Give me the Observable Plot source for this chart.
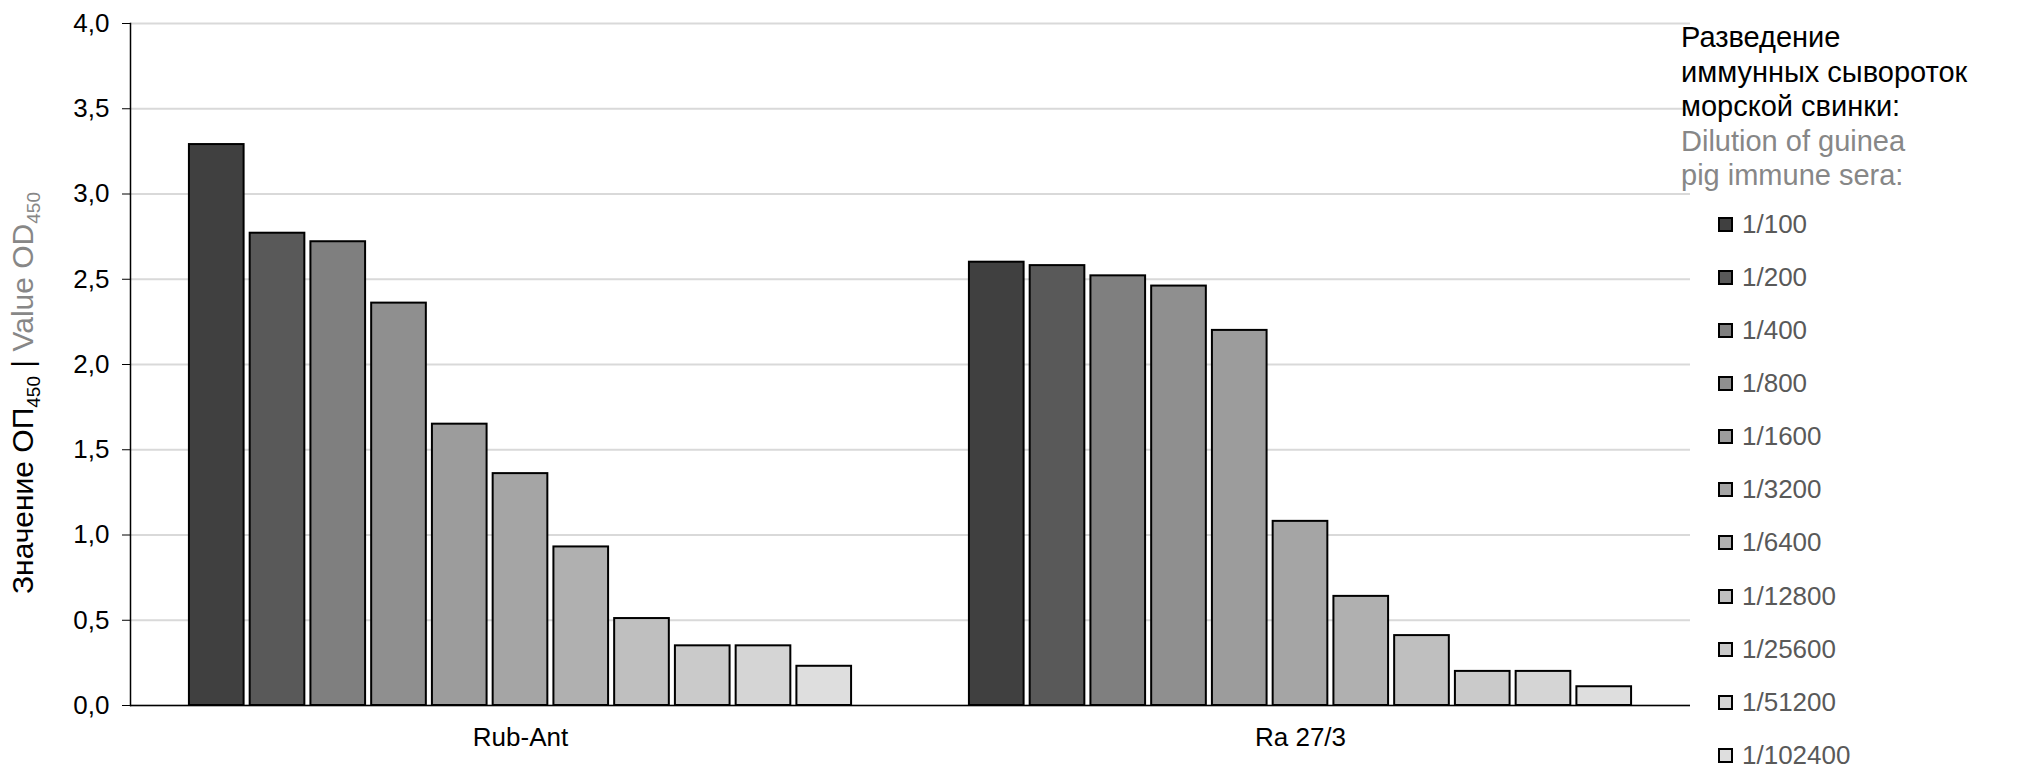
<!DOCTYPE html>
<html>
<head>
<meta charset="utf-8">
<script src="https://cdn.jsdelivr.net/npm/d3@7"></script>
<script src="https://cdn.jsdelivr.net/npm/@observablehq/plot@0.6"></script>
<style>
  html, body { margin: 0; padding: 0; background: #fff; }
  #wrap { position: relative; width: 2018px; height: 779px; font-family: "Liberation Sans", Arial, sans-serif; }
  #chart { position: absolute; left: 0; top: 0; }
  #legend { position: absolute; left: 1681px; top: 0; width: 337px; height: 779px; }
  #legend .title { position: absolute; left: 0; top: 20px; font-size: 29px; line-height: 34.5px; white-space: nowrap; }
  #legend .ru { color: #000; }
  #legend .en { color: #878787; }
  #legend .item { position: absolute; left: 37px; height: 30px; display: flex; align-items: center; font-size: 26px; color: #595959; white-space: nowrap; }
  #legend .sw { width: 11px; height: 11px; border: 2px solid #000; margin-right: 9px; box-sizing: content-box; }
</style>
</head>
<body>
<div id="wrap">
  <div id="chart"></div>
  <div id="legend"></div>
</div>
<script>
// ---- data ----
const categories = ["Rub-Ant", "Ra 27/3"];
const dilutions = ["1/100", "1/200", "1/400", "1/800", "1/1600", "1/3200", "1/6400", "1/12800", "1/25600", "1/51200", "1/102400"];
const rubAntValues = [3.29, 2.77, 2.72, 2.36, 1.65, 1.36, 0.93, 0.51, 0.35, 0.35, 0.23];
const ra273Values = [2.60, 2.58, 2.52, 2.46, 2.20, 1.08, 0.64, 0.41, 0.20, 0.20, 0.11];
const greys = ["#404040", "#595959", "#7f7f7f", "#8f8f8f", "#9c9c9c", "#a5a5a5", "#b0b0b0", "#bfbfbf", "#cacaca", "#d5d5d5", "#dedede"];
const yTicks = [0, 0.5, 1, 1.5, 2, 2.5, 3, 3.5, 4];
const legendTitleRu = ["Разведение", "иммунных сывороток", "морской свинки:"];
const legendTitleEn = ["Dilution of guinea", "pig immune sera:"];

const data = [];
categories.forEach((c, ci) => {
  const vals = ci === 0 ? rubAntValues : ra273Values;
  dilutions.forEach((d, di) => data.push({category: c, dilution: d, value: vals[di]}));
});

const fmt = d => d.toFixed(1).replace(".", ",");

const plot = Plot.plot({
  width: 1700,
  height: 779,
  marginLeft: 130,
  marginRight: 10,
  marginTop: 23,
  marginBottom: 74,
  style: {fontFamily: "'Liberation Sans', Arial, sans-serif", fontSize: "26px", background: "transparent", overflow: "visible", color: "#000"},
  fx: {domain: categories, padding: 0, label: null, round: false},
  x: {domain: dilutions, paddingInner: 0.1, paddingOuter: 0.97, round: false, axis: null},
  y: {domain: [0, 4], label: null},
  color: {domain: dilutions, range: greys},
  marks: [
    Plot.gridY(yTicks, {stroke: "#d9d9d9", strokeOpacity: 1, strokeWidth: 2}),
    Plot.axisY(yTicks, {tickSize: 8, tickPadding: 13, tickFormat: fmt, fontSize: 26, label: null, stroke: "#000"}),
    Plot.axisFx({anchor: "bottom", tickSize: 0, tickPadding: 22, label: null, fontSize: 26}),
    Plot.barY(data, {fx: "category", x: "dilution", y: "value", fill: "dilution", stroke: "#000", strokeWidth: 2}),
    Plot.ruleY([0], {stroke: "#000", strokeWidth: 1.5}),
    Plot.frame({anchor: "left", facetAnchor: "left", stroke: "#000", strokeWidth: 1.5})
  ]
});
document.getElementById("chart").appendChild(plot);

// y-axis title with subscripts and two colours
const svg = d3.select(plot);
const t = svg.append("text")
  .attr("transform", "translate(33,393) rotate(-90)")
  .attr("text-anchor", "middle")
  .attr("font-family", "'Liberation Sans Narrow', 'Liberation Sans', Arial, sans-serif")
  .attr("font-size", 30)
  .attr("textLength", 402)
  .attr("lengthAdjust", "spacingAndGlyphs");
t.append("tspan").attr("fill", "#000").text("Значение ОП");
t.append("tspan").attr("fill", "#000").attr("font-size", 19).attr("dy", 7).text("450");
t.append("tspan").attr("fill", "#000").attr("dy", -7).text(" | ");
t.append("tspan").attr("fill", "#878787").text("Value OD");
t.append("tspan").attr("fill", "#878787").attr("font-size", 19).attr("dy", 7).text("450");

// legend
const legend = d3.select("#legend");
const title = legend.append("div").attr("class", "title");
legendTitleRu.forEach(s => title.append("div").attr("class", "ru").text(s));
legendTitleEn.forEach(s => title.append("div").attr("class", "en").text(s));
dilutions.forEach((d, i) => {
  const item = legend.append("div").attr("class", "item").style("top", (209 + i * 53.15) + "px");
  item.append("div").attr("class", "sw").style("background", greys[i]);
  item.append("span").text(d);
});
</script>
</body>
</html>
